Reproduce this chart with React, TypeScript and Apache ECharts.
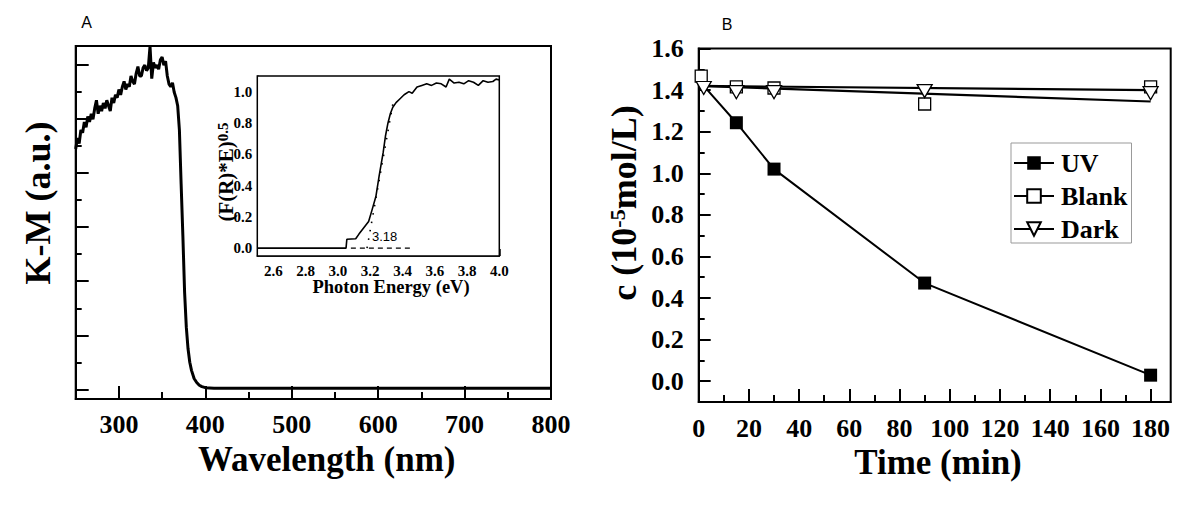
import React, { useEffect, useRef } from "react";
import * as echarts from "echarts";

// ---------- Panel A: K-M spectrum ----------
const A_WAVELENGTH = [
  250, 252, 254, 256, 258, 260, 262, 264, 266, 268, 270, 272, 274, 276, 278, 280,
  282, 284, 286, 288, 290, 292, 294, 296, 298, 300, 302, 304, 306, 308, 310, 312,
  314, 316, 318, 320, 322, 324, 326, 328, 330, 332, 334, 336, 338, 340, 342, 344,
  346, 348, 350, 352, 354, 356, 358, 360, 362, 364, 366, 368, 370, 372, 374, 376,
  378, 380, 382, 384, 387, 390, 393, 396, 400, 410, 500, 600, 700, 800,
];
const A_KM = [
  8.9, 9.3, 9.1, 9.6, 9.5, 9.9, 9.7, 10.1, 9.9, 10.2, 10.0, 10.4, 10.7, 10.2, 10.5, 10.3,
  10.6, 10.4, 10.7, 10.5, 10.3, 10.8, 10.6, 10.9, 10.8, 11.1, 10.9, 11.2, 11.4, 11.1, 11.3, 11.2,
  11.6, 11.4, 11.3, 11.7, 11.95, 11.6, 11.6, 11.9, 12.0, 11.8, 11.9, 12.7, 11.5, 12.1, 11.9, 12.0,
  11.85, 12.2, 12.3, 12.0, 12.15, 11.6, 11.3, 11.2, 11.35, 11.0, 10.8, 10.5, 9.6, 7.6, 5.7, 3.6,
  2.3, 1.5, 1.0, 0.7, 0.4, 0.25, 0.15, 0.1, 0.06, 0.04, 0.04, 0.04, 0.04, 0.04,
];
const A_X_MAJOR = [300, 400, 500, 600, 700, 800];
const A_X_MINOR = [350, 450, 550, 650, 750];
const A_Y_MAJOR = [0, 2, 4, 6, 8, 10, 12];
const A_Y_MINOR = [1, 3, 5, 7, 9, 11];

// ---------- Inset: Tauc plot ----------
const INSET_E = [
  2.5, 3.05, 3.055, 3.11, 3.13, 3.16, 3.19, 3.21, 3.235, 3.255, 3.28, 3.295, 3.31, 3.325,
  3.34, 3.36, 3.38, 3.41, 3.44, 3.46, 3.49, 3.52, 3.55, 3.58, 3.61, 3.64, 3.67, 3.69, 3.72,
  3.75, 3.78, 3.81, 3.84, 3.87, 3.9, 3.93, 3.96, 3.98, 4.0,
];
const INSET_F = [
  0, 0, 0.057, 0.06, 0.09, 0.13, 0.17, 0.24, 0.33, 0.46, 0.61, 0.72, 0.8, 0.86,
  0.9, 0.93, 0.95, 0.98, 1.0, 0.99, 1.03, 1.04, 1.05, 1.04, 1.055, 1.05, 1.03, 1.08, 1.055,
  1.06, 1.05, 1.07, 1.06, 1.04, 1.07, 1.06, 1.065, 1.08, 1.075,
];
const INSET_TANGENT_E = [3.18, 3.34];
const INSET_TANGENT_F = [0, 0.92];
const INSET_BASE_E = [3.08, 3.45];
const INSET_BASE_F = [0, 0];
const INSET_X_MAJOR = [2.6, 2.8, 3.0, 3.2, 3.4, 3.6, 3.8, 4.0];
const INSET_X_MINOR = [2.7, 2.9, 3.1, 3.3, 3.5, 3.7, 3.9];
const INSET_Y_MAJOR = [0, 0.2, 0.4, 0.6, 0.8, 1.0];
const INSET_Y_MINOR = [0.1, 0.3, 0.5, 0.7, 0.9];
const BAND_GAP_LABEL = "3.18";

// ---------- Panel B: degradation ----------
const B_TIME_UV = [2, 15, 30, 90, 180];
const B_UV = [1.42, 1.243, 1.02, 0.472, 0.029];
const B_TIME_BLANK = [1, 15, 30, 90, 180];
const B_BLANK = [1.467, 1.415, 1.41, 1.333, 1.415];
const B_TIME_DARK = [2, 15, 30, 90, 180];
const B_DARK = [1.41, 1.39, 1.39, 1.395, 1.385];
const B_FIT_TIME = [0, 180];
const B_BLANK_FIT = [1.42, 1.345];
const B_DARK_FIT = [1.42, 1.4];
const B_X_MAJOR = [0, 20, 40, 60, 80, 100, 120, 140, 160, 180];
const B_X_MINOR = [10, 30, 50, 70, 90, 110, 130, 150, 170];
const B_Y_MAJOR = [0, 0.2, 0.4, 0.6, 0.8, 1.0, 1.2, 1.4, 1.6];
const B_Y_MINOR = [0.1, 0.3, 0.5, 0.7, 0.9, 1.1, 1.3, 1.5];

const SERIF = "Liberation Serif";
const SANS = "Liberation Sans";

const zip = (xs: number[], ys: number[]) => xs.map((x, i) => [x, ys[i]]);

function majorAxis(
  dim: "x" | "y",
  gridIndex: number,
  min: number,
  max: number,
  major: number[],
  opts: { showLabel: boolean; tickLen: number; lineWidth: number; fontSize: number; margin: number; fmt?: (v: number) => string }
) {
  const fmt = opts.fmt || ((v: number) => String(v));
  return {
    type: "value",
    gridIndex,
    min,
    max,
    position: dim === "x" ? "bottom" : "left",
    splitLine: { show: false },
    axisLine: { show: true, onZero: false, lineStyle: { color: "#000", width: opts.lineWidth } },
    axisTick: {
      show: true,
      inside: true,
      length: opts.tickLen,
      customValues: major,
      lineStyle: { color: "#000", width: opts.lineWidth },
    },
    axisLabel: {
      show: opts.showLabel,
      customValues: major,
      color: "#000",
      fontFamily: SERIF,
      fontWeight: "bold",
      fontSize: opts.fontSize,
      margin: opts.margin,
      formatter: (v: number) => "{t|" + fmt(v) + "}",
      rich: {
        t: { fontFamily: SERIF, fontWeight: "bold", fontSize: opts.fontSize, color: "#000" },
      },
    },
  };
}

function minorAxis(dim: "x" | "y", gridIndex: number, min: number, max: number, minor: number[], tickLen: number, lineWidth: number) {
  return {
    type: "value",
    gridIndex,
    min,
    max,
    position: dim === "x" ? "bottom" : "left",
    splitLine: { show: false },
    axisLine: { show: false, onZero: false },
    axisTick: {
      show: true,
      inside: true,
      length: tickLen,
      customValues: minor,
      lineStyle: { color: "#000", width: lineWidth },
    },
    axisLabel: { show: false },
  };
}

export default function App() {
  const ref = useRef<HTMLDivElement>(null);

  useEffect(() => {
    if (!ref.current) return;
    const chart = echarts.init(ref.current, undefined, { renderer: "svg" });
    const fix1 = (v: number) => v.toFixed(1);

    const option: any = {
      animation: false,
      backgroundColor: "#fff",
      textStyle: { fontFamily: SERIF },
      grid: [
        { left: 75.7, top: 46, width: 475.3, height: 353, show: true, borderColor: "#000", borderWidth: 2, backgroundColor: "transparent" },
        { left: 698.7, top: 48.5, width: 472, height: 353.5, show: true, borderColor: "#000", borderWidth: 2, backgroundColor: "transparent" },
        { left: 257.3, top: 76, width: 242, height: 180, show: true, borderColor: "#000", borderWidth: 1.5, backgroundColor: "#fff", z: 3 },
      ],
      xAxis: [
        majorAxis("x", 0, 250, 800, A_X_MAJOR, { showLabel: true, tickLen: 13, lineWidth: 2, fontSize: 26, margin: 12 }),
        minorAxis("x", 0, 250, 800, A_X_MINOR, 7, 2),
        majorAxis("x", 2, 2.5, 4.0, INSET_X_MAJOR, { showLabel: true, tickLen: 7, lineWidth: 1.5, fontSize: 15, margin: 7, fmt: fix1 }),
        minorAxis("x", 2, 2.5, 4.0, INSET_X_MINOR, 4, 1.5),
        majorAxis("x", 1, 0, 188, B_X_MAJOR, { showLabel: true, tickLen: 13, lineWidth: 2, fontSize: 26, margin: 13 }),
        minorAxis("x", 1, 0, 188, B_X_MINOR, 7, 2),
      ],
      yAxis: [
        majorAxis("y", 0, -0.36, 12.71, A_Y_MAJOR, { showLabel: false, tickLen: 13, lineWidth: 2, fontSize: 26, margin: 10 }),
        minorAxis("y", 0, -0.36, 12.71, A_Y_MINOR, 6, 2),
        majorAxis("y", 2, -0.05, 1.1, INSET_Y_MAJOR, { showLabel: true, tickLen: 7, lineWidth: 1.5, fontSize: 15, margin: 5, fmt: fix1 }),
        minorAxis("y", 2, -0.05, 1.1, INSET_Y_MINOR, 4, 1.5),
        majorAxis("y", 1, -0.1, 1.6, B_Y_MAJOR, { showLabel: true, tickLen: 12, lineWidth: 2, fontSize: 26, margin: 15, fmt: fix1 }),
        minorAxis("y", 1, -0.1, 1.6, B_Y_MINOR, 6, 2),
      ],
      legend: {
        data: ["UV", "Blank", "Dark"],
        orient: "vertical",
        left: 1011,
        top: 143,
        itemWidth: 40,
        itemHeight: 17,
        itemGap: 7,
        padding: [7, 4, 1, 2],
        borderColor: "#999",
        borderWidth: 1,
        backgroundColor: "#fff",
        textStyle: { fontFamily: SERIF, fontWeight: "bold", fontSize: 26, color: "#000", padding: [0, 0, 0, 2] },
        lineStyle: { color: "#000", width: 2, opacity: 1, type: "solid" },
      },
      series: [
        {
          name: "K-M",
          type: "line",
          xAxisIndex: 0,
          yAxisIndex: 0,
          data: zip(A_WAVELENGTH, A_KM),
          showSymbol: false,
          lineStyle: { color: "#000", width: 3 },
          z: 2,
        },
        {
          name: "Tauc",
          type: "line",
          xAxisIndex: 2,
          yAxisIndex: 2,
          data: zip(INSET_E, INSET_F),
          showSymbol: false,
          lineStyle: { color: "#000", width: 1.6 },
          z: 5,
        },
        {
          name: "Baseline",
          type: "line",
          xAxisIndex: 2,
          yAxisIndex: 2,
          data: zip(INSET_BASE_E, INSET_BASE_F),
          showSymbol: false,
          lineStyle: { color: "#000", width: 1.4, type: [5, 4] },
          z: 5,
        },
        {
          name: "Tangent",
          type: "line",
          xAxisIndex: 2,
          yAxisIndex: 2,
          data: zip(INSET_TANGENT_E, INSET_TANGENT_F),
          showSymbol: false,
          lineStyle: { color: "#000", width: 1.6, type: [1.5, 7] },
          z: 5,
        },
        {
          name: "Blank fit",
          type: "line",
          xAxisIndex: 4,
          yAxisIndex: 4,
          data: zip(B_FIT_TIME, B_BLANK_FIT),
          showSymbol: false,
          lineStyle: { color: "#000", width: 2.2 },
        },
        {
          name: "Dark fit",
          type: "line",
          xAxisIndex: 4,
          yAxisIndex: 4,
          data: zip(B_FIT_TIME, B_DARK_FIT),
          showSymbol: false,
          lineStyle: { color: "#000", width: 2.2 },
        },
        {
          name: "UV",
          type: "line",
          xAxisIndex: 4,
          yAxisIndex: 4,
          data: zip(B_TIME_UV, B_UV).map((p, i) => (i === 0 ? { value: p, symbol: "none" } : p)),
          symbol: "rect",
          symbolSize: 13,
          itemStyle: { color: "#000" },
          lineStyle: { color: "#000", width: 2 },
        },
        {
          name: "Blank",
          type: "line",
          xAxisIndex: 4,
          yAxisIndex: 4,
          data: zip(B_TIME_BLANK, B_BLANK),
          symbol: "rect",
          symbolSize: 12,
          itemStyle: { color: "#fff", borderColor: "#000", borderWidth: 1.3 },
          lineStyle: { color: "#000", width: 0, opacity: 0 },
        },
        {
          name: "Dark",
          type: "line",
          xAxisIndex: 4,
          yAxisIndex: 4,
          data: zip(B_TIME_DARK, B_DARK),
          symbol: "triangle",
          symbolRotate: 180,
          symbolSize: [15, 13],
          itemStyle: { color: "#fff", borderColor: "#000", borderWidth: 1.3 },
          lineStyle: { color: "#000", width: 0, opacity: 0 },
        },
      ],
      graphic: [
        { type: "text", x: 86.7, y: 22, style: { text: "A", fontFamily: SANS, fontSize: 16, fill: "#000", align: "center", verticalAlign: "middle" } },
        { type: "text", x: 727, y: 24.5, style: { text: "B", fontFamily: SANS, fontSize: 16, fill: "#000", align: "center", verticalAlign: "middle" } },
        {
          type: "text",
          x: 326.7,
          y: 459,
          style: { text: "Wavelength (nm)", fontFamily: SERIF, fontWeight: "bold", fontSize: 35, fill: "#000", align: "center", verticalAlign: "middle" },
        },
        {
          type: "text",
          x: 938,
          y: 462,
          style: { text: "Time (min)", fontFamily: SERIF, fontWeight: "bold", fontSize: 35, fill: "#000", align: "center", verticalAlign: "middle" },
        },
        {
          type: "text",
          x: 38,
          y: 203,
          rotation: Math.PI / 2,
          style: { text: "K-M (a.u.)", fontFamily: SERIF, fontWeight: "bold", fontSize: 36, fill: "#000", align: "center", verticalAlign: "middle" },
        },
        {
          type: "text",
          x: 624,
          y: 203,
          rotation: Math.PI / 2,
          style: {
            text: "{m|c (10}{s|-5}{m|mol/L)}",
            align: "center",
            verticalAlign: "middle",
            fill: "#000",
            rich: {
              m: { fontFamily: SERIF, fontWeight: "bold", fontSize: 36, fill: "#000" },
              s: { fontFamily: SERIF, fontWeight: "bold", fontSize: 22, fill: "#000", verticalAlign: "top" },
            },
          },
        },
        {
          type: "text",
          x: 226,
          y: 172,
          rotation: Math.PI / 2,
          z: 10,
          style: {
            text: "{m|(F(R)*E)}{s|0.5}",
            align: "center",
            verticalAlign: "middle",
            fill: "#000",
            rich: {
              m: { fontFamily: SERIF, fontWeight: "bold", fontSize: 21, fill: "#000" },
              s: { fontFamily: SERIF, fontWeight: "bold", fontSize: 15, fill: "#000", verticalAlign: "top" },
            },
          },
        },
        {
          type: "text",
          x: 391,
          y: 287,
          z: 10,
          style: { text: "Photon Energy (eV)", fontFamily: SERIF, fontWeight: "bold", fontSize: 18.5, fill: "#000", align: "center", verticalAlign: "middle" },
        },
        {
          type: "text",
          x: 372,
          y: 236,
          z: 10,
          style: { text: BAND_GAP_LABEL, fontFamily: SANS, fontSize: 13, fill: "#000", align: "left", verticalAlign: "middle" },
        },
      ],
    };

    chart.setOption(option);
    return () => chart.dispose();
  }, []);

  return <div ref={ref} style={{ position: "absolute", left: 0, top: 0, width: 1200, height: 505 }} />;
}
